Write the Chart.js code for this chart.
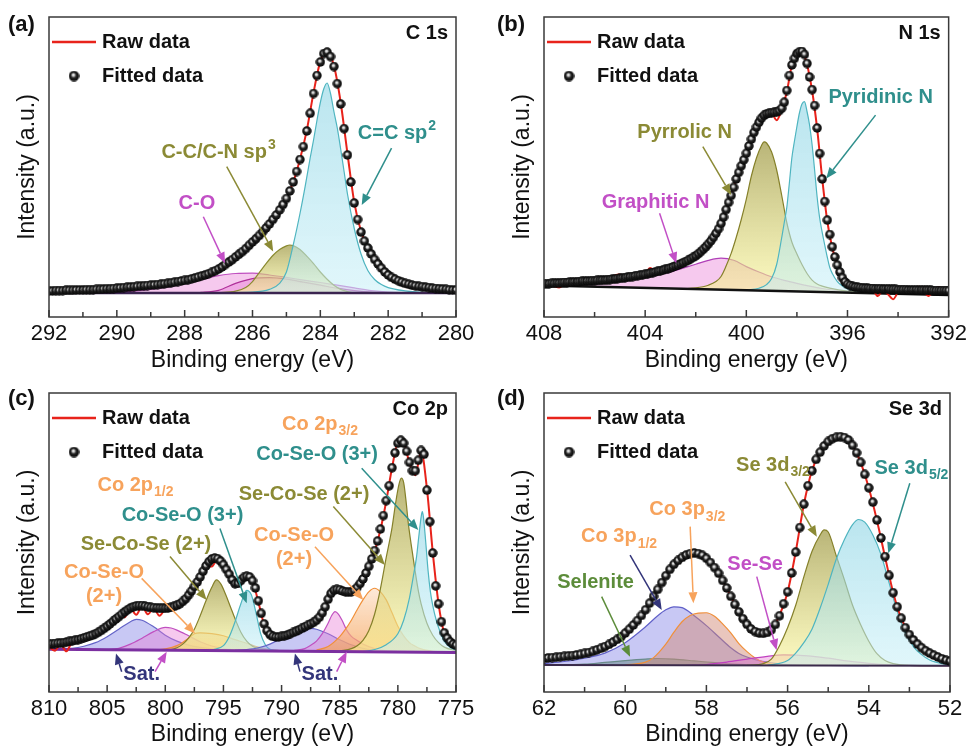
<!DOCTYPE html>
<html>
<head>
<meta charset="utf-8">
<title>XPS high-resolution spectra</title>
<script src="https://cdn.jsdelivr.net/npm/chart.js@4.4.1/dist/chart.umd.min.js"></script>
<style>
  html, body { margin: 0; padding: 0; background: #fff; }
  #wrap { position: relative; width: 971px; height: 748px; overflow: hidden; }
  #wrap canvas { position: absolute; }
</style>
</head>
<body>
<div id="wrap">
  <canvas id="pa" width="485" height="374" style="left:0;top:0"></canvas>
  <canvas id="pb" width="486" height="374" style="left:485px;top:0"></canvas>
  <canvas id="pc" width="485" height="374" style="left:0;top:374px"></canvas>
  <canvas id="pd" width="486" height="374" style="left:485px;top:374px"></canvas>
</div>
<script>
const FONT = "'Liberation Sans', Arial, Helvetica, sans-serif";
const RED = '#e8231b';
const TEAL = '#2f8f8c';
const OLIVE = '#8b8a35';
const MAGENTA = '#c24fc6';
const ORANGE = '#f7a35c';
const NAVY = '#33357a';
const GREEN = '#5c8c3a';

// ---------- (a) C 1s ----------
// fitted: 292.0 -> 280.0 eV every 0.1 eV
const fitA = [
  8.7, 8.7, 8.8, 8.8, 8.8, 8.9, 8.9, 8.9, 9.0, 9.0,
  9.0, 9.1, 9.1, 9.1, 9.2, 9.2, 9.3, 9.4, 9.4, 9.5,
  9.6, 9.7, 9.8, 9.9, 10.0, 10.1, 10.2, 10.3, 10.4, 10.5,
  10.6, 10.7, 10.8, 10.9, 11.1, 11.2, 11.4, 11.6, 11.8, 12.0,
  12.2, 12.4, 12.7, 13.0, 13.3, 13.7, 14.0, 14.4, 14.9, 15.4,
  16.0, 16.7, 17.5, 18.3, 19.1, 20.0, 20.9, 21.8, 22.8, 23.9,
  25.0, 26.1, 27.2, 28.4, 29.7, 31.0, 32.5, 34.0, 35.7, 37.5,
  39.5, 42.0, 45.0, 48.5, 52.5, 56.8, 62.0, 67.9, 74.5, 80.5,
  85.0, 87.8, 88.3, 86.8, 83.5, 77.8, 71.0, 62.8, 54.0, 45.0,
  38.0, 32.5, 28.3, 25.3, 23.0, 21.0, 19.2, 17.7, 16.3, 15.0,
  14.0, 13.2, 12.6, 12.1, 11.6, 11.2, 10.9, 10.6, 10.4, 10.2,
  10.1, 9.9, 9.8, 9.6, 9.5, 9.4, 9.3, 9.2, 9.1, 9.0,
  9.0
];
// raw: 292.0 -> 280.0 eV every 0.2 eV
const rawA = [
  8.6, 8.8, 8.9, 8.8, 9.0, 9.1, 9.0, 9.2, 9.3, 9.4,
  9.6, 9.8, 10.0, 10.2, 10.3, 10.6, 10.8, 11.0, 11.4, 11.8,
  12.2, 12.6, 13.3, 14.0, 14.8, 16.0, 17.4, 19.2, 20.9, 22.8,
  25.0, 27.2, 29.6, 32.5, 35.8, 39.6, 45.0, 52.6, 62.2, 74.8,
  85.2, 88.5, 83.8, 71.5, 54.5, 38.2, 28.6, 23.2, 19.3, 16.4,
  14.1, 12.7, 11.7, 11.0, 10.5, 10.1, 9.8, 9.5, 9.3, 9.1,
  9.0
];
const bgA = [[292, 8.0], [280, 8.0]];
const aCO = [[292, 8.0], [291, 8.0], [290, 8.2], [289.5, 8.6], [289, 9.2], [288.5, 10.0], [288, 11.2], [287.5, 12.6],
  [287, 13.8], [286.5, 14.5], [286, 14.6], [285.5, 14.0], [285, 13.2], [284.5, 12.3], [284, 11.5], [283.5, 10.6],
  [283, 9.7], [282.5, 8.8], [282, 8.3], [281, 8.0], [280, 8.0]];
const aCO2 = [[288, 8.0], [287.5, 8.2], [287, 8.9], [286.5, 11.2], [286, 12.8], [285.5, 13.1], [285, 12.6],
  [284.5, 11.6], [284, 10.6], [283.5, 9.6], [283, 8.8], [282.5, 8.3], [282, 8.0]];
const aSp3 = [[287.0, 8.1], [286.5, 8.6], [286.2, 9.8], [286.0, 11.8], [285.8, 14.8], [285.6, 17.8], [285.4, 20.5],
  [285.2, 22.5], [285.0, 23.7], [284.9, 24.0], [284.8, 23.8], [284.6, 22.5], [284.4, 20.3], [284.2, 17.8],
  [284.0, 15.0], [283.8, 12.6], [283.6, 10.6], [283.4, 9.2], [283.2, 8.5], [283.0, 8.1], [282.5, 8.0]];
const aSp2 = [[287.0, 8.1], [286.0, 8.3], [285.5, 9.2], [285.2, 11.2], [285.0, 15.0], [284.8, 24.0], [284.6, 34.5],
  [284.45, 43.4], [284.3, 53.0], [284.2, 59.0], [284.1, 65.5], [284.0, 71.5], [283.9, 76.0], [283.8, 78.0],
  [283.7, 74.5], [283.6, 68.5], [283.5, 63.0], [283.4, 56.0], [283.3, 48.5], [283.2, 41.0], [283.0, 29.5],
  [282.8, 21.0], [282.6, 15.5], [282.4, 12.5], [282.2, 10.8], [282.0, 9.8], [281.5, 8.7], [281.0, 8.2], [280.0, 8.0]];
const notesA = [
  { text: 'C=C sp', sup: '2', color: TEAL, at: [281.74, 61.3], arrows: [[281.9, 56.3, 282.78, 37.3]] },
  { text: 'C-C/C-N sp', sup: '3', color: OLIVE, at: [287.0, 55.0], arrows: [[286.76, 50.1, 285.39, 21.8]] },
  { text: 'C-O', color: MAGENTA, at: [287.64, 37.7], arrows: [[287.45, 33.4, 286.81, 17.9]] }
];

// ---------- (b) N 1s ----------
// fitted: 408.0 -> 392.0 eV every 0.1 eV
const fitB = [
  11.0, 11.1, 11.1, 11.2, 11.2, 11.3, 11.3, 11.4, 11.5, 11.5,
  11.6, 11.6, 11.7, 11.7, 11.8, 11.9, 11.9, 12.0, 12.0, 12.1,
  12.1, 12.2, 12.2, 12.3, 12.3, 12.4, 12.5, 12.6, 12.7, 12.8,
  12.9, 13.0, 13.1, 13.3, 13.4, 13.5, 13.7, 13.8, 13.9, 14.1,
  14.2, 14.4, 14.6, 14.8, 15.0, 15.2, 15.4, 15.6, 15.9, 16.1,
  16.4, 16.7, 17.0, 17.3, 17.7, 18.1, 18.5, 18.9, 19.4, 19.9,
  20.4, 21.1, 21.8, 22.6, 23.4, 24.4, 25.4, 26.6, 27.9, 29.4,
  31.2, 33.3, 35.8, 38.2, 40.5, 43.2, 46.0, 48.2, 50.4, 52.4,
  54.6, 57.0, 59.3, 61.5, 63.3, 64.9, 66.3, 67.2, 67.7, 67.9,
  68.1, 68.2, 68.4, 68.8, 69.6, 71.6, 75.5, 80.5, 84.0, 86.2,
  87.8, 88.4, 88.5, 87.5, 84.5, 80.0, 75.8, 70.5, 63.0, 54.5,
  46.0, 38.5, 32.3, 27.5, 23.4, 20.0, 17.3, 15.0, 13.1, 11.7,
  10.9, 10.5, 10.2, 10.0, 9.9, 9.8, 9.7, 9.6, 9.6, 9.5,
  9.5, 9.4, 9.4, 9.4, 9.3, 9.3, 9.3, 9.2, 9.2, 9.2,
  9.1, 9.1, 9.1, 9.1, 9.0, 9.0, 9.0, 9.0, 8.9, 8.9,
  8.9, 8.9, 8.9, 8.9, 8.8, 8.8, 8.8, 8.8, 8.8, 8.8,
  8.8
];
// raw: 408.0 -> 392.0 eV every 0.2 eV
const rawB = [
  11.0, 10.6, 10.2, 9.8, 11.0, 11.8, 11.6, 11.9, 12.0, 12.3,
  11.9, 12.4, 12.2, 12.8, 13.9, 14.2, 13.2, 13.5, 13.6, 14.0,
  14.4, 16.3, 15.4, 15.2, 15.8, 16.6, 17.0, 17.8, 18.4, 19.6,
  20.3, 21.9, 23.3, 25.5, 28.0, 31.0, 35.8, 40.5, 46.0, 50.5,
  54.5, 59.5, 63.0, 65.2, 67.0, 67.8, 65.6, 69.2, 75.0, 84.0,
  87.8, 88.5, 84.2, 75.5, 62.8, 46.2, 32.0, 23.0, 17.2, 13.0,
  10.8, 10.0, 9.8, 9.6, 9.4, 9.0, 7.0, 8.8, 7.6, 5.9,
  8.2, 9.2, 9.0, 9.4, 10.1, 8.6, 7.0, 8.8, 10.0, 9.0,
  8.6
];
const bgB = [[408, 10.5], [392, 7.3]];
const bGraphitic = [[408, 10.8], [407, 11.1], [406, 11.5], [405, 12.2], [404, 13.5], [403, 15.0], [402.5, 16.3],
  [402, 17.6], [401.5, 18.9], [401, 19.6], [400.5, 18.9], [400, 16.8], [399.5, 15.0], [399, 13.4], [398.5, 12.2],
  [398, 11.2], [397.5, 10.3], [397, 9.5], [396.5, 8.9], [396, 8.5], [395, 8.0], [394, 7.7]];
const bPyrrolic = [[402.5, 9.4], [402.0, 9.7], [401.5, 10.6], [401.2, 11.8], [401.0, 13.5], [400.8, 17.0],
  [400.6, 21.2], [400.4, 26.5], [400.2, 32.5], [400.0, 39.3], [399.8, 47.0], [399.6, 53.0], [399.4, 57.2],
  [399.3, 58.4], [399.2, 58.0], [399.0, 55.0], [398.8, 49.0], [398.6, 40.5], [398.4, 31.5], [398.2, 25.0],
  [398.0, 21.0], [397.8, 17.5], [397.6, 14.5], [397.4, 12.3], [397.2, 11.0], [397.0, 10.3], [396.7, 9.6],
  [396.0, 8.6], [395.0, 8.0]];
const bPyridinic = [[400.0, 9.0], [399.5, 9.6], [399.2, 10.8], [399.0, 12.8], [398.8, 17.5], [398.6, 26.5],
  [398.5, 31.5], [398.4, 36.5], [398.3, 44.5], [398.2, 53.0], [398.1, 58.5], [398.0, 63.5], [397.9, 68.0],
  [397.8, 71.0], [397.7, 71.8], [397.6, 68.5], [397.5, 64.0], [397.4, 57.5], [397.3, 49.0], [397.2, 40.0],
  [397.1, 33.0], [397.0, 28.2], [396.9, 24.0], [396.8, 20.0], [396.7, 16.5], [396.6, 14.5], [396.4, 11.8],
  [396.2, 10.3], [396.0, 9.4], [395.5, 8.5], [395.0, 8.0], [394.0, 7.7]];
const notesB = [
  { text: 'Pyridinic N', color: TEAL, at: [394.69, 73.2], arrows: [[394.89, 67.3, 396.84, 46.2]] },
  { text: 'Pyrrolic N', color: OLIVE, at: [402.44, 61.5], arrows: [[401.72, 56.8, 400.6, 40.7]] },
  { text: 'Graphitic N', color: MAGENTA, at: [403.59, 38.2], arrows: [[403.43, 34.6, 402.77, 17.9]] }
];

// ---------- (c) Co 2p ----------
// fitted: 810.0 -> 775.0 eV every 0.25 eV
const fitC = [
  16.0, 16.1, 16.2, 16.3, 16.4, 16.5, 16.7, 16.9, 17.1, 17.3,
  17.5, 17.8, 18.1, 18.4, 18.7, 19.0, 19.5, 20.0, 20.6, 21.3,
  22.0, 22.8, 23.6, 24.4, 25.2, 26.0, 26.8, 27.5, 28.1, 28.5,
  28.8, 28.9, 28.9, 28.7, 28.5, 28.3, 28.2, 28.1, 28.0, 28.0,
  28.0, 28.1, 28.3, 28.6, 29.0, 29.5, 30.3, 31.2, 32.4, 33.8,
  35.3, 36.8, 38.5, 40.4, 42.2, 43.6, 44.5, 44.8, 44.6, 43.8,
  42.6, 41.0, 39.4, 37.5, 36.2, 36.3, 37.3, 38.3, 38.7, 38.5,
  37.2, 34.8, 30.5, 26.3, 22.8, 20.5, 19.2, 18.6, 18.4, 18.4,
  18.6, 18.8, 19.1, 19.5, 19.9, 20.3, 20.8, 21.3, 21.8, 22.3,
  22.8, 23.3, 24.0, 25.0, 26.5, 28.5, 31.0, 33.0, 34.0, 34.3,
  34.2, 33.8, 33.5, 33.4, 33.5, 34.0, 35.0, 36.3, 37.8, 39.8,
  42.0, 44.5, 47.3, 50.5, 54.5, 59.0, 64.0, 69.0, 75.0, 80.0,
  83.2, 84.2, 83.2, 80.5, 76.8, 74.0, 74.0, 77.5, 80.8, 79.5,
  67.5, 57.0, 46.5, 35.5, 29.5, 23.5, 19.8, 18.0, 16.8, 16.0,
  15.6
];
// raw: 810.0 -> 775.0 eV every 0.5 eV
const rawC = [
  15.2, 13.8, 15.9, 13.6, 16.8, 17.2, 18.0, 18.4, 19.4, 20.4,
  21.9, 23.4, 25.4, 25.0, 28.0, 25.8, 28.7, 26.0, 28.0, 25.5,
  27.8, 28.2, 28.8, 30.0, 32.2, 35.2, 38.2, 42.0, 42.0, 44.5,
  42.3, 39.0, 36.0, 37.1, 38.7, 37.0, 30.2, 22.5, 19.0, 18.2,
  18.4, 19.0, 19.7, 20.6, 21.6, 22.6, 23.7, 26.0, 30.5, 33.5,
  33.6, 32.6, 33.2, 34.6, 37.5, 41.6, 47.0, 54.2, 63.8, 75.0,
  83.0, 83.0, 76.5, 72.5, 80.5, 68.0, 46.8, 29.5, 19.5, 16.0,
  14.5
];
const bgC = [[810, 14.3], [775, 13.2]];
const cSatBlue1 = [[810, 14.3], [808, 14.6], [807, 15.3], [806, 16.5], [805, 18.5], [804, 21.0], [803, 23.5],
  [802.5, 24.3], [802, 24.0], [801, 21.8], [800, 19.0], [799, 17.0], [798, 15.7], [797, 14.9], [796, 14.4], [794, 14.0]];
const cSatPink1 = [[805, 14.1], [804, 14.6], [803, 16.0], [802, 18.0], [801, 20.2], [800, 21.6], [799.5, 21.4],
  [799, 20.7], [798, 18.8], [797, 16.8], [796, 15.4], [795, 14.6], [794, 14.1], [792, 13.9]];
const cCoSeO2a = [[801, 14.0], [800, 14.4], [799, 15.5], [798, 18.0], [797.5, 19.5], [797, 19.8], [796, 19.5],
  [795, 18.8], [794, 17.5], [793, 16.3], [792, 15.0], [791, 14.2], [790, 13.8]];
const cSeCoSeA = [[799.5, 14.2], [799, 14.8], [798.5, 16.0], [798, 18.0], [797.5, 21.0], [797, 25.5], [796.5, 30.5],
  [796, 35.0], [795.6, 37.5], [795.2, 36.0], [794.8, 32.5], [794.4, 28.5], [794, 24.5], [793.5, 20.0], [793, 17.0],
  [792.5, 15.3], [792, 14.5], [791, 14.0]];
const cCoSeO3a = [[796, 14.0], [795, 15.5], [794.5, 18.5], [794, 23.5], [793.5, 29.5], [793, 34.0], [792.6, 32.5],
  [792.2, 26.5], [791.8, 19.5], [791.4, 15.8], [791, 14.3], [790, 13.8]];
const cSatBlue2 = [[794, 13.9], [793, 14.2], [792, 14.8], [791, 16.0], [790, 18.0], [789, 19.8], [788, 21.0],
  [787.5, 21.3], [787, 21.0], [786, 19.5], [785, 17.5], [784, 15.8], [783, 14.6], [782, 14.0], [780, 13.5]];
const cSatPink2 = [[789, 13.8], [788, 14.5], [787.5, 15.6], [787, 17.0], [786.5, 19.5], [786, 23.0], [785.7, 25.5],
  [785.4, 26.9], [785.1, 26.0], [784.8, 24.0], [784.4, 20.7], [784, 18.6], [783.5, 17.2], [783, 16.0], [782, 14.5],
  [781, 13.8], [780, 13.5]];
const cCoSeO2b = [[787, 14.0], [786, 15.2], [785, 18.5], [784.5, 21.0], [784, 24.0], [783.5, 27.5], [783, 30.8],
  [782.5, 33.5], [782, 34.7], [781.5, 33.5], [781, 30.8], [780.5, 26.5], [780, 22.0], [779.5, 18.8], [779, 16.5],
  [778.5, 15.3], [778, 14.4], [777, 13.6], [776, 13.3]];
const cSeCoSeB = [[785, 13.7], [784, 14.5], [783.5, 15.5], [783, 17.3], [782.5, 20.5], [782, 26.0], [781.5, 34.5],
  [781, 45.0], [780.5, 55.0], [780.2, 63.0], [779.9, 69.5], [779.7, 71.5], [779.5, 70.0], [779.3, 64.0],
  [779.1, 56.4], [778.7, 45.3], [778.25, 34.1], [778, 29.5], [777.5, 23.0], [777, 19.0], [776.5, 16.5],
  [776, 15.0], [775, 13.8]];
const cCoSeO3b = [[783, 13.5], [782, 14.2], [781, 15.8], [780, 19.5], [779.5, 24.0], [779, 31.5], [778.7, 38.0],
  [778.4, 45.0], [778.2, 52.0], [778.0, 58.5], [777.9, 60.3], [777.8, 58.5], [777.6, 50.0], [777.4, 40.5],
  [777.2, 33.5], [777.0, 29.0], [776.7, 24.0], [776.4, 20.5], [776, 17.0], [775.5, 15.0], [775, 14.0]];
const notesC = [
  { text: 'Co 2p', sub: '3/2', color: ORANGE, at: [786.7, 89.6] },
  { text: 'Co-Se-O (3+)', color: TEAL, at: [786.95, 79.6], arrows: [[783.11, 74.8, 778.24, 54.2]] },
  { text: 'Se-Co-Se (2+)', color: OLIVE, at: [788.07, 66.2], arrows: [[785.55, 62.0, 781.11, 42.5]] },
  { lines: ['Co-Se-O', '(2+)'], color: ORANGE, at: [788.93, 52.5], arrows: [[787.13, 48.6, 782.97, 30.8]] },
  { text: 'Co 2p', sub: '1/2', color: ORANGE, at: [802.56, 69.2] },
  { text: 'Co-Se-O (3+)', color: TEAL, at: [798.52, 59.2], arrows: [[795.3, 54.7, 793.0, 29.7]] },
  { text: 'Se-Co-Se (2+)', color: OLIVE, at: [801.66, 49.5], arrows: [[799.6, 45.3, 796.44, 30.8]] },
  { lines: ['Co-Se-O', '(2+)'], color: ORANGE, at: [805.27, 40.1], arrows: [[802.03, 38.0, 797.44, 19.6]] },
  { text: 'Sat.', color: NAVY, at: [802.03, 6.0],
    arrows: [[803.75, 6.8, 804.24, 12.9, NAVY], [800.88, 6.8, 799.88, 13.5, MAGENTA]] },
  { text: 'Sat.', color: NAVY, at: [786.7, 6.0],
    arrows: [[788.42, 6.8, 788.85, 12.9, NAVY], [785.26, 6.8, 784.4, 13.5, MAGENTA]] }
];

// ---------- (d) Se 3d ----------
// fitted: 62.0 -> 52.0 eV every 0.1 eV
const fitD = [
  11.2, 11.4, 11.5, 11.6, 11.8, 11.9, 12.1, 12.2, 12.4, 12.6,
  12.9, 13.2, 13.6, 14.1, 14.6, 15.2, 15.9, 16.7, 17.6, 18.5,
  19.7, 21.0, 22.4, 23.9, 25.6, 27.5, 29.7, 32.0, 34.3, 36.6,
  38.9, 41.0, 42.7, 44.0, 45.0, 45.8, 46.3, 46.5, 46.3, 45.7,
  44.7, 43.3, 41.6, 39.7, 37.3, 34.8, 32.0, 29.3, 26.8, 24.5,
  22.6, 21.1, 20.2, 19.7, 19.6, 19.9, 20.8, 22.6, 25.5, 29.5,
  33.5, 39.8, 46.8, 55.0, 62.8, 69.0, 74.0, 77.8, 80.2, 82.3,
  83.8, 84.7, 85.2, 85.4, 85.1, 84.3, 82.5, 80.0, 76.8, 72.8,
  68.3, 63.5, 57.5, 51.5, 45.3, 39.0, 33.2, 28.5, 24.7, 21.5,
  19.2, 17.4, 16.0, 14.8, 13.8, 13.0, 12.3, 11.7, 11.1, 10.6,
  10.3
];
// raw: 62.0 -> 52.0 eV every 0.2 eV
const rawD = [
  11.0, 11.6, 11.7, 12.2, 12.3, 13.0, 13.5, 14.7, 15.8, 17.7,
  19.6, 22.5, 25.5, 29.8, 34.2, 39.0, 42.6, 45.1, 46.2, 46.4,
  44.6, 41.7, 37.2, 32.1, 26.7, 22.7, 20.1, 19.7, 20.7, 25.6,
  33.4, 46.9, 62.7, 74.1, 80.3, 83.9, 85.3, 85.0, 82.4, 76.7,
  68.2, 57.4, 45.2, 33.3, 24.6, 19.3, 15.9, 13.9, 12.2, 11.2,
  10.2
];
const bgD = [[62, 9.0], [52, 8.8]];
const dSelenite = [[62, 9.0], [61, 9.3], [60.5, 9.9], [60, 10.5], [59.5, 11.0], [59.2, 11.2], [58.8, 11.0],
  [58.3, 10.4], [57.8, 9.8], [57.3, 9.3], [56.8, 9.0], [56, 8.9]];
const dCo3p12 = [[62, 9.5], [61.5, 10.2], [61, 11.3], [60.5, 13.0], [60, 16.5], [59.5, 21.8], [59.2, 25.5],
  [59, 27.5], [58.8, 28.5], [58.6, 28.2], [58.3, 25.5], [58, 22.2], [57.7, 18.5], [57.4, 14.8], [57.2, 12.9],
  [57, 11.7], [56.7, 10.5], [56.3, 9.6], [56, 9.2], [55, 8.9], [54, 8.8]];
const dCo3p32 = [[60, 9.0], [59.5, 10.0], [59.3, 11.5], [59.0, 16.0], [58.8, 20.0], [58.6, 23.5], [58.4, 25.6],
  [58.2, 26.4], [58.0, 26.5], [57.8, 25.3], [57.6, 22.8], [57.4, 19.8], [57.2, 16.2], [57.0, 13.5], [56.8, 11.4],
  [56.6, 10.0], [56.3, 9.2], [56, 8.9], [55, 8.9]];
const dSeSe = [[58.5, 8.9], [58, 9.2], [57.5, 10.0], [57, 11.0], [56.5, 11.9], [56.1, 12.4], [55.5, 12.1],
  [55, 11.3], [54.5, 10.3], [54, 9.6], [53.5, 9.1], [53, 8.9], [52, 8.8]];
const dSe3d32 = [[57, 8.9], [56.6, 9.5], [56.4, 11.0], [56.2, 15.5], [56.0, 21.5], [55.8, 29.0], [55.6, 38.5],
  [55.4, 47.0], [55.2, 52.5], [55.1, 54.2], [55.0, 53.5], [54.8, 45.5], [54.6, 37.5], [54.4, 29.0], [54.2, 22.5],
  [54.0, 17.0], [53.8, 12.8], [53.6, 10.5], [53.4, 9.5], [53, 8.9], [52, 8.8]];
const dSe3d52 = [[56.5, 8.9], [56, 10.5], [55.8, 13.0], [55.6, 16.5], [55.4, 21.0], [55.2, 28.0], [55.0, 36.0],
  [54.8, 44.5], [54.6, 51.0], [54.4, 56.0], [54.25, 57.7], [54.1, 56.8], [53.9, 52.5], [53.7, 46.0], [53.5, 36.5],
  [53.3, 27.0], [53.1, 20.0], [52.9, 15.2], [52.7, 12.5], [52.5, 10.7], [52.2, 9.5], [52, 9.2]];
const notesD = [
  { text: 'Se 3d', sub: '5/2', color: TEAL, at: [52.95, 74.8], arrows: [[52.99, 69.8, 53.52, 46.4]] },
  { text: 'Se 3d', sub: '3/2', color: OLIVE, at: [56.36, 75.9], arrows: [[56.06, 70.3, 55.28, 51.9]] },
  { text: 'Co 3p', sub: '3/2', color: ORANGE, at: [58.47, 60.9], arrows: [[58.4, 55.3, 58.32, 29.7]] },
  { text: 'Co 3p', sub: '1/2', color: ORANGE, at: [60.15, 51.9], arrows: [[59.88, 45.8, 59.1, 27.4, NAVY]] },
  { text: 'Se-Se', color: MAGENTA, at: [56.8, 42.8], arrows: [[56.76, 38.6, 56.27, 14.0]] },
  { text: 'Selenite', color: GREEN, at: [60.73, 36.5], arrows: [[60.58, 31.9, 59.88, 11.8]] }
];

// ---------- helpers ----------
function onGrid(start, step, values) {
  return values.map((v, i) => ({ x: +(start - i * step).toFixed(2), y: v }));
}
function pairs(arr) {
  return arr.map(([x, y]) => ({ x, y }));
}

// vertical gradient between the peak top and its foot
function vGrad(cTop, cBottom) {
  return c => {
    const ch = c.chart;
    if (!ch.chartArea || !c.dataset) return cBottom;
    const ys = ch.scales.y;
    const vals = c.dataset.data.map(p => p.y);
    const top = ys.getPixelForValue(Math.max(...vals));
    const bot = ys.getPixelForValue(Math.min(...vals));
    if (!isFinite(top) || !isFinite(bot) || top === bot) return cBottom;
    const g = ch.ctx.createLinearGradient(0, top, 0, bot);
    g.addColorStop(0, cTop);
    g.addColorStop(1, cBottom);
    return g;
  };
}

const CYAN_FILL = vGrad('rgba(140,212,228,0.6)', 'rgba(200,240,248,0.55)');
const OLIVE_FILL = vGrad('rgba(158,152,68,0.72)', 'rgba(250,246,150,0.6)');
const PINK_FILL = 'rgba(232,120,212,0.4)';
const BLUE_FILL = 'rgba(140,140,232,0.48)';
const ORANGE_FILL = vGrad('rgba(252,222,195,0.65)', 'rgba(245,160,85,0.7)');
const ROSE_FILL = 'rgba(210,135,118,0.48)';
const GREEN_FILL = 'rgba(80,140,60,0.55)';

function makeBall(d) {
  const c = document.createElement('canvas');
  c.width = c.height = d;
  const g = c.getContext('2d');
  const r = d / 2;
  const grad = g.createRadialGradient(r * 0.85, r * 0.75, 0, r, r, r);
  grad.addColorStop(0, '#ffffff');
  grad.addColorStop(0.22, '#cccccc');
  grad.addColorStop(0.48, '#262626');
  grad.addColorStop(1, '#000000');
  g.fillStyle = grad;
  g.beginPath();
  g.arc(r, r, r - 0.3, 0, Math.PI * 2);
  g.fill();
  return c;
}
const BALL = makeBall(10);
const LEGEND_BALL = makeBall(11);

function drawArrow(ctx, x1, y1, x2, y2, color) {
  const ang = Math.atan2(y2 - y1, x2 - x1);
  const head = 11, half = 4.5;
  const bx = x2 - head * Math.cos(ang), by = y2 - head * Math.sin(ang);
  ctx.strokeStyle = color;
  ctx.fillStyle = color;
  ctx.lineWidth = 1.5;
  ctx.beginPath();
  ctx.moveTo(x1, y1);
  ctx.lineTo(bx, by);
  ctx.stroke();
  ctx.beginPath();
  ctx.moveTo(x2, y2);
  ctx.lineTo(bx + half * Math.sin(ang), by - half * Math.cos(ang));
  ctx.lineTo(bx - half * Math.sin(ang), by + half * Math.cos(ang));
  ctx.closePath();
  ctx.fill();
}

function drawLabel(ctx, cx, cy, n) {
  ctx.textBaseline = 'middle';
  ctx.fillStyle = n.color;
  if (n.lines) {
    ctx.textAlign = 'center';
    ctx.font = `bold 20px ${FONT}`;
    n.lines.forEach((t, i) => ctx.fillText(t, cx, cy + i * 24));
    return;
  }
  const script = n.sup || n.sub;
  ctx.font = `bold 20px ${FONT}`;
  const w1 = ctx.measureText(n.text).width;
  let w2 = 0;
  if (script) {
    ctx.font = `bold 14px ${FONT}`;
    w2 = ctx.measureText(script).width + 1;
  }
  const x = cx - (w1 + w2) / 2;
  ctx.textAlign = 'left';
  ctx.font = `bold 20px ${FONT}`;
  ctx.fillText(n.text, x, cy);
  if (script) {
    ctx.font = `bold 14px ${FONT}`;
    ctx.fillText(script, x + w1 + 1, cy + (n.sup ? -7 : 7));
  }
}

// frame, inward ticks, legend and labels
const decor = {
  id: 'decor',
  afterDraw(chart, args, o) {
    const { ctx, chartArea: a } = chart;
    const xs = chart.scales.x, ys = chart.scales.y;
    const px = v => xs.getPixelForValue(v), py = v => ys.getPixelForValue(v);
    ctx.save();

    ctx.strokeStyle = '#3a3a3a';
    ctx.lineWidth = 1.5;
    ctx.strokeRect(a.left, a.top, a.right - a.left, a.bottom - a.top);
    const tv = xs.ticks.map(t => t.value);
    ctx.beginPath();
    tv.forEach((v, i) => {
      const x = px(v);
      ctx.moveTo(x, a.bottom);
      ctx.lineTo(x, a.bottom - 7);
      if (i < tv.length - 1) {
        const m = px((v + tv[i + 1]) / 2);
        ctx.moveTo(m, a.bottom);
        ctx.lineTo(m, a.bottom - 5);
      }
    });
    ctx.stroke();

    // legend
    ctx.strokeStyle = RED;
    ctx.lineWidth = 2.5;
    ctx.beginPath();
    ctx.moveTo(a.left + 3, a.top + 25);
    ctx.lineTo(a.left + 47, a.top + 25);
    ctx.stroke();
    ctx.drawImage(LEGEND_BALL, a.left + 25 - 5.5, a.top + 59 - 5.5);
    ctx.fillStyle = '#111';
    ctx.font = `bold 20px ${FONT}`;
    ctx.textAlign = 'left';
    ctx.textBaseline = 'middle';
    ctx.fillText('Raw data', a.left + 53, a.top + 25);
    ctx.fillText('Fitted data', a.left + 53, a.top + 59);

    // core level name and panel letter
    ctx.textAlign = 'right';
    ctx.fillText(o.core, a.right - 8, a.top + 16);
    ctx.textAlign = 'left';
    ctx.font = `bold 22px ${FONT}`;
    ctx.fillText(o.letter, o.letterX, 25);

    o.notes.forEach(n => {
      (n.arrows || []).forEach(ar => {
        drawArrow(ctx, px(ar[0]), py(ar[1]), px(ar[2]), py(ar[3]), ar[4] || n.color);
      });
      drawLabel(ctx, px(n.at[0]), py(n.at[1]), n);
    });
    ctx.restore();
  }
};

const panels = [
  { id: 'pa', letter: '(a)', letterX: 8, core: 'C 1s', min: 280, max: 292, step: 2,
    axisW: 49, yTitlePad: 14, padTop: 17, padRight: 29, xH: 57,
    fitted: onGrid(292, 0.1, fitA), raw: onGrid(292, 0.2, rawA), bg: bgA, bgColor: '#3b2450', bgWidth: 2.5,
    comps: [
      { data: aCO, line: '#c050c0', fill: PINK_FILL },
      { data: aCO2, line: '#b0309a', fill: PINK_FILL },
      { data: aSp3, line: '#8a8a30', fill: OLIVE_FILL },
      { data: aSp2, line: '#4fb5c0', fill: CYAN_FILL }
    ], notes: notesA },
  { id: 'pb', letter: '(b)', letterX: 12, core: 'N 1s', min: 392, max: 408, step: 4,
    axisW: 59, yTitlePad: 24, padTop: 17, padRight: 21, xH: 57,
    fitted: onGrid(408, 0.1, fitB), raw: onGrid(408, 0.2, rawB), bg: bgB, bgColor: '#111111', bgWidth: 2.5,
    comps: [
      { data: bGraphitic, line: '#b040b8', fill: PINK_FILL },
      { data: bPyrrolic, line: '#85802a', fill: OLIVE_FILL },
      { data: bPyridinic, line: '#4fb5c0', fill: CYAN_FILL }
    ], notes: notesB },
  { id: 'pc', letter: '(c)', letterX: 8, core: 'Co 2p', min: 775, max: 810, step: 5,
    axisW: 49, yTitlePad: 14, padTop: 19, padRight: 29, xH: 56,
    fitted: onGrid(810, 0.25, fitC), raw: onGrid(810, 0.5, rawC), bg: bgC, bgColor: '#7b2fa0', bgWidth: 3,
    comps: [
      { data: cSatBlue1, line: '#6464c8', fill: BLUE_FILL },
      { data: cSatPink1, line: '#c050c0', fill: PINK_FILL },
      { data: cCoSeO2a, line: '#f0903a', fill: ORANGE_FILL },
      { data: cSeCoSeA, line: '#85802a', fill: OLIVE_FILL },
      { data: cCoSeO3a, line: '#4fb5c0', fill: CYAN_FILL },
      { data: cSatBlue2, line: '#6464c8', fill: BLUE_FILL },
      { data: cSatPink2, line: '#c050c0', fill: PINK_FILL },
      { data: cCoSeO2b, line: '#f0903a', fill: ORANGE_FILL },
      { data: cSeCoSeB, line: '#85802a', fill: OLIVE_FILL },
      { data: cCoSeO3b, line: '#4fb5c0', fill: CYAN_FILL }
    ], notes: notesC },
  { id: 'pd', letter: '(d)', letterX: 12, core: 'Se 3d', min: 52, max: 62, step: 2,
    axisW: 59, yTitlePad: 24, padTop: 19, padRight: 21, xH: 56,
    fitted: onGrid(62, 0.1, fitD), raw: onGrid(62, 0.2, rawD), bg: bgD, bgColor: '#3a2a4a', bgWidth: 2,
    comps: [
      { data: dSelenite, line: '#4c8a34', fill: GREEN_FILL },
      { data: dCo3p12, line: '#6060c8', fill: BLUE_FILL },
      { data: dCo3p32, line: '#f0903a', fill: ROSE_FILL },
      { data: dSeSe, line: '#c040c0', fill: PINK_FILL },
      { data: dSe3d32, line: '#85802a', fill: OLIVE_FILL },
      { data: dSe3d52, line: '#4fb5c0', fill: CYAN_FILL }
    ], notes: notesD }
];

function build(p) {
  const datasets = [
    { label: 'Fitted data', data: p.fitted, showLine: false, pointStyle: BALL, pointRadius: 5, order: 0 },
    { label: 'Raw data', data: p.raw, borderColor: RED, borderWidth: 2, pointRadius: 0,
      cubicInterpolationMode: 'monotone', fill: false, order: 1 },
    { label: 'Background', data: pairs(p.bg), borderColor: p.bgColor, borderWidth: p.bgWidth,
      pointRadius: 0, fill: false, order: 2 }
  ];
  p.comps.forEach((c, i) => {
    datasets.push({
      label: 'component ' + i, data: pairs(c.data), borderColor: c.line, borderWidth: 1.2,
      backgroundColor: c.fill, fill: 2, pointRadius: 0, cubicInterpolationMode: 'monotone',
      order: 100 - i
    });
  });

  new Chart(document.getElementById(p.id), {
    type: 'line',
    data: { datasets },
    options: {
      responsive: false,
      animation: false,
      devicePixelRatio: 1,
      events: [],
      layout: { padding: { left: 0, top: p.padTop, right: p.padRight, bottom: 0 } },
      plugins: {
        legend: { display: false },
        tooltip: { enabled: false },
        decor: { core: p.core, letter: p.letter, letterX: p.letterX, notes: p.notes }
      },
      scales: {
        x: {
          type: 'linear', reverse: true, min: p.min, max: p.max,
          grid: { display: false, drawTicks: false },
          border: { display: false },
          ticks: { stepSize: p.step, autoSkip: false, maxRotation: 0, padding: 4, color: '#111',
                   font: { family: FONT, size: 22 }, callback: v => String(v) },
          title: { display: true, text: 'Binding energy (eV)', color: '#111',
                   font: { family: FONT, size: 23 }, padding: { top: 0, bottom: 0 } },
          afterFit: s => { s.height = p.xH; }
        },
        y: {
          min: 0, max: 100,
          grid: { display: false, drawTicks: false },
          border: { display: false },
          ticks: { display: false },
          title: { display: true, text: 'Intensity (a.u.)', color: '#111',
                   font: { family: FONT, size: 23 }, padding: { top: p.yTitlePad, bottom: 0 } },
          afterFit: s => { s.width = p.axisW; }
        }
      }
    },
    plugins: [decor]
  });
}

panels.forEach(build);
</script>
</body>
</html>
